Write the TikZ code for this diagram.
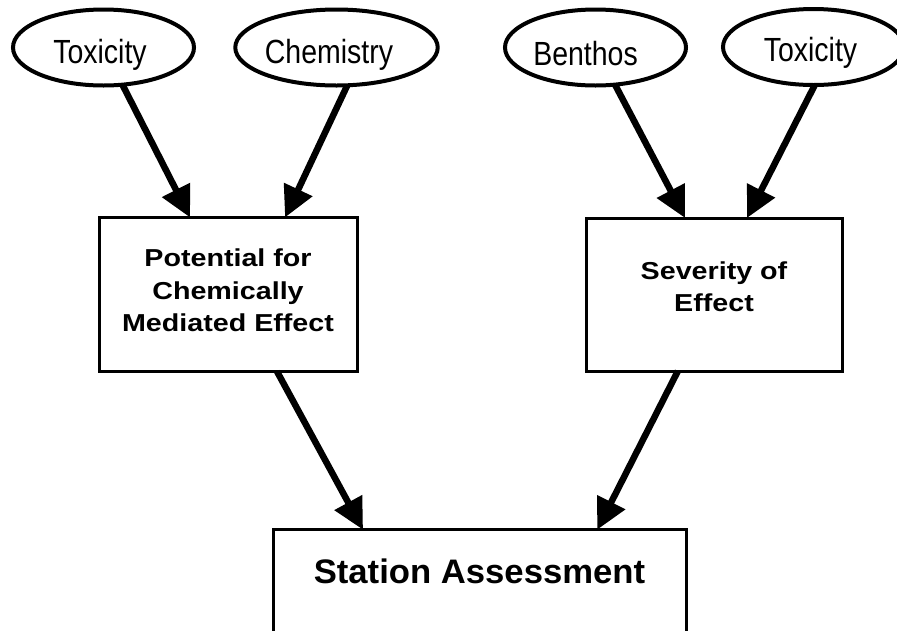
\documentclass[tikz,border=0pt]{standalone}
\usepackage{fontspec}
\setmainfont{Liberation Sans}
\newfontfamily\ellfont{Liberation Sans}[FakeStretch=0.85]
\newfontfamily\boxfont{Liberation Sans}[FakeStretch=1.17]
\newfontfamily\stfont{Liberation Sans}[FakeStretch=1.02]
\usetikzlibrary{shapes.geometric,arrows.meta,calc}
\begin{document}
\begin{tikzpicture}[x=1pt,y=-1pt,
  oval/.style={ellipse, draw, line width=4pt, minimum width=181pt, minimum height=76pt,
    inner sep=0pt, outer sep=0pt, font=\ellfont\fontsize{33.5}{40}\selectfont,
    text height=33pt, text depth=2pt},
  stepbox/.style={rectangle, draw, line width=3pt, inner sep=0pt, outer sep=0pt, align=center,
    font=\boxfont\bfseries\fontsize{24.5}{32.5}\selectfont},
  arr/.style={line width=6.5pt, -{Triangle[length=31pt,width=30pt]}}]
\clip (0,0) rectangle (897,630);
\fill[white] (0,0) rectangle (897,630);

\node[oval] (tox1) at (103.5,47.5) {Toxicity\hspace*{7pt}};
\node[oval] (chem) at (336.5,47.5) {Chemistry\hspace*{15pt}};
\node[oval, text height=37pt] (benth) at (595.5,47.5) {Benthos\hspace*{20pt}};
\node[oval, text height=31pt] (tox2) at (813.5,47) {Toxicity\hspace*{6pt}};

\node[stepbox, minimum width=258pt, minimum height=154pt, text height=83pt, text depth=8.6pt]
  (pot) at (228,294.5) {Potential for\\Chemically\\Mediated Effect};
\node[stepbox, minimum width=256pt, minimum height=153pt, text height=50.5pt, text depth=16.1pt]
  (sev) at (714,294.5) {Severity of\\Effect};
\node[stepbox, minimum width=413pt, minimum height=150pt,
  font=\stfont\bfseries\fontsize{34}{40}\selectfont, text height=25pt, text depth=68.5pt]
  (sta) at (479.5,604.75) {Station Assessment};

\draw[arr] (tox1) -- ($(pot.north west)!0.353!(pot.north east)$);
\draw[arr] (chem.-74) -- ($(pot.north west)!0.721!(pot.north east)$);
\draw[arr] (benth) -- ($(sev.north west)!0.387!(sev.north east)$);
\draw[arr] (tox2.-88) -- ($(sev.north west)!0.629!(sev.north east)$);
\draw[arr] ($(pot.south west)!0.69!(pot.south east)$) -- ($(sta.north west)!0.218!(sta.north east)$);
\draw[arr] ($(sev.south west)!0.359!(sev.south east)$) -- ($(sta.north west)!0.785!(sta.north east)$);
\end{tikzpicture}
\end{document}
